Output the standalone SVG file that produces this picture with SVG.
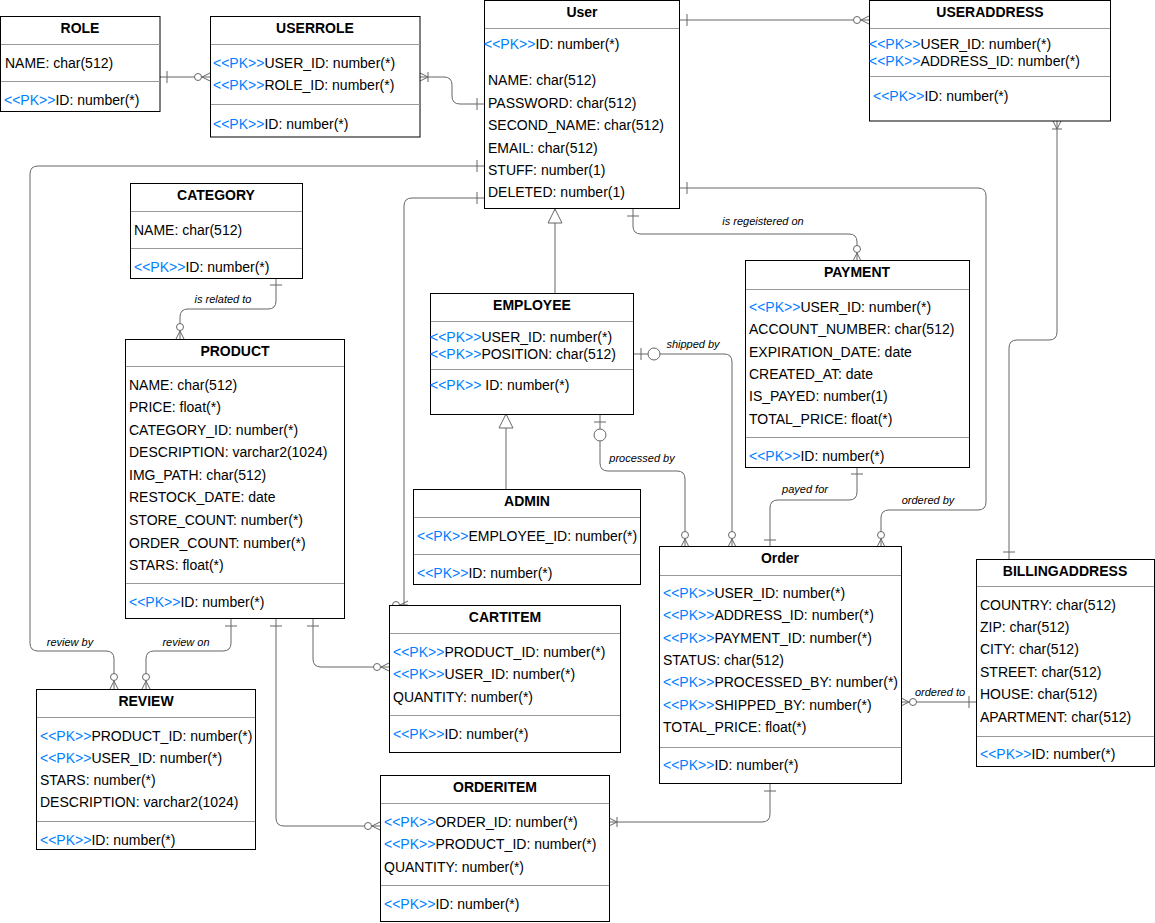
<svg xmlns="http://www.w3.org/2000/svg" width="1155" height="923" viewBox="0 0 1155 923">
<style>
.box{fill:#fff;stroke:#000;stroke-width:1}
.sep{stroke:#999;stroke-width:1}
.t{font-family:"Liberation Sans",Arial,sans-serif;font-size:14px;fill:#000}
.h{font-family:"Liberation Sans",Arial,sans-serif;font-size:14px;font-weight:bold;fill:#000;text-anchor:middle}
.pk{fill:#007fff}
.c{fill:none;stroke:#666;stroke-width:1}
.lbl{font-family:"Liberation Sans",Arial,sans-serif;font-size:11px;font-style:italic;fill:#000;text-anchor:middle}
</style>
<defs>
<marker id="one" viewBox="-30 -12 40 24" markerWidth="40" markerHeight="24" refX="0" refY="0" orient="auto-start-reverse" markerUnits="userSpaceOnUse" overflow="visible">
<path d="M-7,-6 V6" stroke="#666" fill="none"/>
</marker>
<marker id="zm" viewBox="-30 -12 40 24" markerWidth="40" markerHeight="24" refX="0" refY="0" orient="auto-start-reverse" markerUnits="userSpaceOnUse" overflow="visible">
<path d="M-8,0 L0,-4 M-8,0 L0,4" stroke="#666" fill="none"/>
<circle cx="-12" cy="0" r="3.5" fill="#fff" stroke="#666"/>
</marker>
<marker id="om" viewBox="-30 -12 40 24" markerWidth="40" markerHeight="24" refX="0" refY="0" orient="auto-start-reverse" markerUnits="userSpaceOnUse" overflow="visible">
<path d="M-8,0 L0,-4 M-8,0 L0,4 M-8,-5 V5" stroke="#666" fill="none"/>
</marker>
<marker id="zo" viewBox="-30 -12 40 24" markerWidth="40" markerHeight="24" refX="0" refY="0" orient="auto-start-reverse" markerUnits="userSpaceOnUse" overflow="visible">
<path d="M-8,-6 V6" stroke="#666" fill="none"/>
<circle cx="-21" cy="0" r="6" fill="#fff" stroke="#666"/>
</marker>
<marker id="inh" viewBox="-30 -12 40 24" markerWidth="40" markerHeight="24" refX="0" refY="0" orient="auto" markerUnits="userSpaceOnUse" overflow="visible">
<path d="M0,0 L-14,-7 L-14,7 Z" stroke="#666" fill="#fff"/>
</marker>
</defs>
<rect width="1155" height="923" fill="#fff"/>

<g id="connectors">
<path class="c" d="M160,77 H210" marker-start="url(#one)" marker-end="url(#zm)"/>
<path class="c" d="M420,77 H444 Q452,77 452,85 V96 Q452,104 460,104 H484" marker-start="url(#om)" marker-end="url(#one)"/>
<path class="c" d="M680,20 H869" marker-start="url(#one)" marker-end="url(#zm)"/>
<path class="c" d="M1057,121 V332 Q1057,340 1049,340 H1017 Q1009,340 1009,348 V559" marker-start="url(#om)" marker-end="url(#one)"/>
<path class="c" d="M680,188 H978 Q986,188 986,196 V502 Q986,510 978,510 H889 Q881,510 881,518 V547" marker-start="url(#one)" marker-end="url(#zm)"/>
<path class="c" d="M633,209 V226 Q633,234 641,234 H849 Q857,234 857,242 V261" marker-start="url(#one)" marker-end="url(#zm)"/>
<path class="c" d="M555,294 V209" marker-end="url(#inh)"/>
<path class="c" d="M506,489 V414" marker-end="url(#inh)"/>
<path class="c" d="M633,354 H724 Q732,354 732,362 V547" marker-start="url(#zo)" marker-end="url(#zm)"/>
<path class="c" d="M600,414 V463 Q600,471 608,471 H677 Q685,471 685,479 V547" marker-start="url(#zo)" marker-end="url(#zm)"/>
<path class="c" d="M857,467 V492 Q857,500 849,500 H778 Q770,500 770,508 V547" marker-start="url(#one)" marker-end="url(#one)"/>
<path class="c" d="M901,702 H976" marker-start="url(#zm)" marker-end="url(#one)"/>
<path class="c" d="M770,784 V814 Q770,822 762,822 H609" marker-start="url(#one)" marker-end="url(#om)"/>
<path class="c" d="M276,619 V818 Q276,826 284,826 H380" marker-start="url(#one)" marker-end="url(#zm)"/>
<path class="c" d="M313,619 V659 Q313,667 321,667 H389" marker-start="url(#one)" marker-end="url(#zm)"/>
<path class="c" d="M231,619 V643 Q231,651 223,651 H154 Q146,651 146,659 V689" marker-start="url(#one)" marker-end="url(#zm)"/>
<path class="c" d="M484,166 H38 Q30,166 30,174 V643 Q30,651 38,651 H106 Q114,651 114,659 V689" marker-start="url(#one)" marker-end="url(#zm)"/>
<path class="c" d="M276,278 V301 Q276,309 268,309 H188 Q180,309 180,317 V339" marker-start="url(#one)" marker-end="url(#zm)"/>
<path class="c" d="M484,198 H412 Q404,198 404,206 V605" marker-start="url(#one)"/>
<path class="c" d="M400,605 L408,601 M400,605 L408,609 M400,605 H408"/>
<circle cx="396" cy="605" r="3.5" fill="#fff" stroke="#666"/>
<text class="lbl" x="223" y="303">is related to</text>
<text class="lbl" x="763" y="225">is regeistered on</text>
<text class="lbl" x="693" y="348">shipped by</text>
<text class="lbl" x="642" y="462">processed by</text>
<text class="lbl" x="805" y="493">payed for</text>
<text class="lbl" x="928" y="504">ordered by</text>
<text class="lbl" x="940" y="696">ordered to</text>
<text class="lbl" x="70" y="646">review by</text>
<text class="lbl" x="186" y="646">review on</text>
</g>

<g id="role">
<rect class="box" x="0.5" y="16.5" width="159.5" height="95"/>
<text class="h" x="80" y="33">ROLE</text>
<line class="sep" x1="1" y1="44.5" x2="160" y2="44.5"/>
<text class="t" x="5" y="68">NAME: char(512)</text>
<line class="sep" x1="1" y1="81.5" x2="160" y2="81.5"/>
<text class="t" x="4" y="105"><tspan class="pk">&lt;&lt;PK&gt;&gt;</tspan>ID: number(*)</text>
</g>

<g id="userrole">
<rect class="box" x="210.5" y="16.5" width="209.5" height="120.5"/>
<text class="h" x="315" y="33">USERROLE</text>
<line class="sep" x1="211" y1="44.5" x2="420" y2="44.5"/>
<text class="t" x="213" y="68"><tspan class="pk">&lt;&lt;PK&gt;&gt;</tspan>USER_ID: number(*)</text>
<text class="t" x="213" y="90"><tspan class="pk">&lt;&lt;PK&gt;&gt;</tspan>ROLE_ID: number(*)</text>
<line class="sep" x1="211" y1="104.5" x2="420" y2="104.5"/>
<text class="t" x="213" y="129"><tspan class="pk">&lt;&lt;PK&gt;&gt;</tspan>ID: number(*)</text>
</g>

<g id="user">
<rect class="box" x="484.5" y="0.5" width="195" height="208"/>
<text class="h" x="582" y="17">User</text>
<line class="sep" x1="485" y1="28.5" x2="679" y2="28.5"/>
<text class="t" x="484" y="49"><tspan class="pk">&lt;&lt;PK&gt;&gt;</tspan>ID: number(*)</text>
<text class="t" x="488" y="85">NAME: char(512)</text>
<text class="t" x="488" y="108">PASSWORD: char(512)</text>
<text class="t" x="488" y="130">SECOND_NAME: char(512)</text>
<text class="t" x="488" y="153">EMAIL: char(512)</text>
<text class="t" x="488" y="175">STUFF: number(1)</text>
<text class="t" x="488" y="197">DELETED: number(1)</text>
</g>

<g id="useraddress">
<rect class="box" x="869.5" y="0.5" width="241" height="120.5"/>
<text class="h" x="990" y="17">USERADDRESS</text>
<line class="sep" x1="870" y1="28.5" x2="1110" y2="28.5"/>
<text class="t" x="869" y="49"><tspan class="pk">&lt;&lt;PK&gt;&gt;</tspan>USER_ID: number(*)</text>
<text class="t" x="869" y="66"><tspan class="pk">&lt;&lt;PK&gt;&gt;</tspan>ADDRESS_ID: number(*)</text>
<line class="sep" x1="870" y1="76.5" x2="1110" y2="76.5"/>
<text class="t" x="873" y="101"><tspan class="pk">&lt;&lt;PK&gt;&gt;</tspan>ID: number(*)</text>
</g>

<g id="category">
<rect class="box" x="130.5" y="183.5" width="172" height="95"/>
<text class="h" x="216" y="200">CATEGORY</text>
<line class="sep" x1="131" y1="211.5" x2="302" y2="211.5"/>
<text class="t" x="134" y="235">NAME: char(512)</text>
<line class="sep" x1="131" y1="248.5" x2="302" y2="248.5"/>
<text class="t" x="134" y="272"><tspan class="pk">&lt;&lt;PK&gt;&gt;</tspan>ID: number(*)</text>
</g>

<g id="product">
<rect class="box" x="125.5" y="339.5" width="219" height="279"/>
<text class="h" x="235" y="356">PRODUCT</text>
<line class="sep" x1="126" y1="366.5" x2="344" y2="366.5"/>
<text class="t" x="129" y="390">NAME: char(512)</text>
<text class="t" x="129" y="412">PRICE: float(*)</text>
<text class="t" x="129" y="435">CATEGORY_ID: number(*)</text>
<text class="t" x="129" y="457">DESCRIPTION: varchar2(1024)</text>
<text class="t" x="129" y="480">IMG_PATH: char(512)</text>
<text class="t" x="129" y="502">RESTOCK_DATE: date</text>
<text class="t" x="129" y="525">STORE_COUNT: number(*)</text>
<text class="t" x="129" y="548">ORDER_COUNT: number(*)</text>
<text class="t" x="129" y="570">STARS: float(*)</text>
<line class="sep" x1="126" y1="583.5" x2="344" y2="583.5"/>
<text class="t" x="129" y="607"><tspan class="pk">&lt;&lt;PK&gt;&gt;</tspan>ID: number(*)</text>
</g>

<g id="employee">
<rect class="box" x="430.5" y="293.5" width="203" height="121"/>
<text class="h" x="532" y="310">EMPLOYEE</text>
<line class="sep" x1="431" y1="321.5" x2="633" y2="321.5"/>
<text class="t" x="430" y="342"><tspan class="pk">&lt;&lt;PK&gt;&gt;</tspan>USER_ID: number(*)</text>
<text class="t" x="430" y="359"><tspan class="pk">&lt;&lt;PK&gt;&gt;</tspan>POSITION: char(512)</text>
<line class="sep" x1="431" y1="369.5" x2="633" y2="369.5"/>
<text class="t" x="430" y="390"><tspan class="pk">&lt;&lt;PK&gt;&gt;</tspan> ID: number(*)</text>
</g>

<g id="admin">
<rect class="box" x="413.5" y="489.5" width="227" height="95"/>
<text class="h" x="527" y="506">ADMIN</text>
<line class="sep" x1="414" y1="517.5" x2="640" y2="517.5"/>
<text class="t" x="417" y="541"><tspan class="pk">&lt;&lt;PK&gt;&gt;</tspan>EMPLOYEE_ID: number(*)</text>
<line class="sep" x1="414" y1="554.5" x2="640" y2="554.5"/>
<text class="t" x="417" y="578"><tspan class="pk">&lt;&lt;PK&gt;&gt;</tspan>ID: number(*)</text>
</g>

<g id="payment">
<rect class="box" x="745.5" y="260.5" width="224" height="207"/>
<text class="h" x="857" y="277">PAYMENT</text>
<line class="sep" x1="746" y1="289.5" x2="969" y2="289.5"/>
<text class="t" x="749" y="312"><tspan class="pk">&lt;&lt;PK&gt;&gt;</tspan>USER_ID: number(*)</text>
<text class="t" x="749" y="334">ACCOUNT_NUMBER: char(512)</text>
<text class="t" x="749" y="357">EXPIRATION_DATE: date</text>
<text class="t" x="749" y="379">CREATED_AT: date</text>
<text class="t" x="749" y="401">IS_PAYED: number(1)</text>
<text class="t" x="749" y="424">TOTAL_PRICE: float(*)</text>
<line class="sep" x1="746" y1="437.5" x2="969" y2="437.5"/>
<text class="t" x="749" y="461"><tspan class="pk">&lt;&lt;PK&gt;&gt;</tspan>ID: number(*)</text>
</g>

<g id="order">
<rect class="box" x="659.5" y="546.5" width="242" height="237"/>
<text class="h" x="780" y="563">Order</text>
<line class="sep" x1="660" y1="575.5" x2="901" y2="575.5"/>
<text class="t" x="663" y="598"><tspan class="pk">&lt;&lt;PK&gt;&gt;</tspan>USER_ID: number(*)</text>
<text class="t" x="663" y="620"><tspan class="pk">&lt;&lt;PK&gt;&gt;</tspan>ADDRESS_ID: number(*)</text>
<text class="t" x="663" y="643"><tspan class="pk">&lt;&lt;PK&gt;&gt;</tspan>PAYMENT_ID: number(*)</text>
<text class="t" x="663" y="665">STATUS: char(512)</text>
<text class="t" x="663" y="687"><tspan class="pk">&lt;&lt;PK&gt;&gt;</tspan>PROCESSED_BY: number(*)</text>
<text class="t" x="663" y="710"><tspan class="pk">&lt;&lt;PK&gt;&gt;</tspan>SHIPPED_BY: number(*)</text>
<text class="t" x="663" y="732">TOTAL_PRICE: float(*)</text>
<line class="sep" x1="660" y1="747.5" x2="901" y2="747.5"/>
<text class="t" x="663" y="770"><tspan class="pk">&lt;&lt;PK&gt;&gt;</tspan>ID: number(*)</text>
</g>

<g id="billingaddress">
<rect class="box" x="976.5" y="559.5" width="178" height="207"/>
<text class="h" x="1065" y="576">BILLINGADDRESS</text>
<line class="sep" x1="977" y1="586.5" x2="1154" y2="586.5"/>
<text class="t" x="980" y="610">COUNTRY: char(512)</text>
<text class="t" x="980" y="632">ZIP: char(512)</text>
<text class="t" x="980" y="654">CITY: char(512)</text>
<text class="t" x="980" y="677">STREET: char(512)</text>
<text class="t" x="980" y="699">HOUSE: char(512)</text>
<text class="t" x="980" y="722">APARTMENT: char(512)</text>
<line class="sep" x1="977" y1="736.5" x2="1154" y2="736.5"/>
<text class="t" x="980" y="759"><tspan class="pk">&lt;&lt;PK&gt;&gt;</tspan>ID: number(*)</text>
</g>

<g id="review">
<rect class="box" x="36.5" y="689.5" width="219" height="160"/>
<text class="h" x="146" y="706">REVIEW</text>
<line class="sep" x1="37" y1="717.5" x2="255" y2="717.5"/>
<text class="t" x="40" y="741"><tspan class="pk">&lt;&lt;PK&gt;&gt;</tspan>PRODUCT_ID: number(*)</text>
<text class="t" x="40" y="763"><tspan class="pk">&lt;&lt;PK&gt;&gt;</tspan>USER_ID: number(*)</text>
<text class="t" x="40" y="785">STARS: number(*)</text>
<text class="t" x="40" y="807">DESCRIPTION: varchar2(1024)</text>
<line class="sep" x1="37" y1="821.5" x2="255" y2="821.5"/>
<text class="t" x="40" y="845"><tspan class="pk">&lt;&lt;PK&gt;&gt;</tspan>ID: number(*)</text>
</g>

<g id="cartitem">
<rect class="box" x="389.5" y="605.5" width="231" height="147"/>
<text class="h" x="505" y="622">CARTITEM</text>
<line class="sep" x1="390" y1="633.5" x2="620" y2="633.5"/>
<text class="t" x="393" y="657"><tspan class="pk">&lt;&lt;PK&gt;&gt;</tspan>PRODUCT_ID: number(*)</text>
<text class="t" x="393" y="679"><tspan class="pk">&lt;&lt;PK&gt;&gt;</tspan>USER_ID: number(*)</text>
<text class="t" x="393" y="702">QUANTITY: number(*)</text>
<line class="sep" x1="390" y1="715.5" x2="620" y2="715.5"/>
<text class="t" x="393" y="739"><tspan class="pk">&lt;&lt;PK&gt;&gt;</tspan>ID: number(*)</text>
</g>

<g id="orderitem">
<rect class="box" x="380.5" y="775.5" width="229" height="146"/>
<text class="h" x="495" y="792">ORDERITEM</text>
<line class="sep" x1="381" y1="803.5" x2="609" y2="803.5"/>
<text class="t" x="384" y="827"><tspan class="pk">&lt;&lt;PK&gt;&gt;</tspan>ORDER_ID: number(*)</text>
<text class="t" x="384" y="849"><tspan class="pk">&lt;&lt;PK&gt;&gt;</tspan>PRODUCT_ID: number(*)</text>
<text class="t" x="384" y="872">QUANTITY: number(*)</text>
<line class="sep" x1="381" y1="885.5" x2="609" y2="885.5"/>
<text class="t" x="384" y="909"><tspan class="pk">&lt;&lt;PK&gt;&gt;</tspan>ID: number(*)</text>
</g>
</svg>
